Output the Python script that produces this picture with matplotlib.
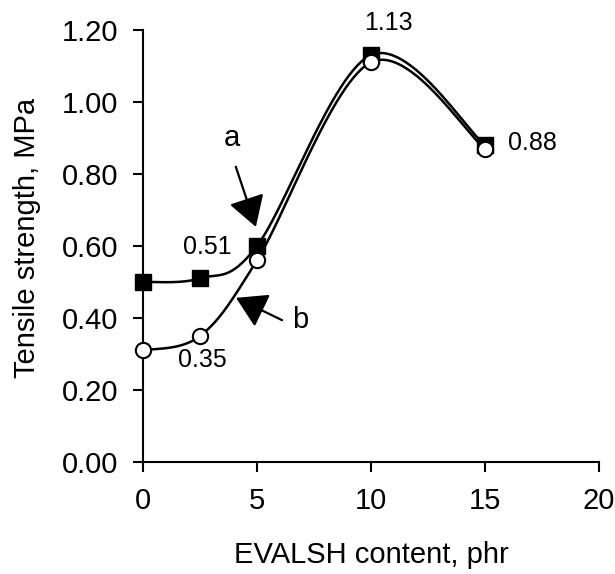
import numpy as np
import matplotlib

matplotlib.use("Agg")
import matplotlib.pyplot as plt

plt.rcParams.update(
    {
        "font.family": ["Liberation Sans", "DejaVu Sans"],
        "font.size": 21,
        "axes.linewidth": 1.5,
        "xtick.major.width": 1.5,
        "ytick.major.width": 1.5,
        "xtick.major.size": 7,
        "ytick.major.size": 7,
    }
)

# ---------------------------------------------------------------------------
# Data
# ---------------------------------------------------------------------------
content = [0, 2.5, 5, 10, 15]
strength_a = [0.50, 0.51, 0.60, 1.13, 0.88]  # filled squares
strength_b = [0.31, 0.35, 0.56, 1.11, 0.87]  # open circles

value_labels = ["1.13", "0.88", "0.51", "0.35"]
value_pos = [(10.75, 1.219), (16.0, 0.885), (2.8, 0.597), (2.6, 0.283)]


def smooth(xs, ys, n=60):
    # Catmull-Rom style smoothing (Excel-like smoothed line)
    P = np.column_stack([xs, ys]).astype(float)
    P = np.vstack([P[0], P, P[-1]])
    out = []
    t = np.linspace(0, 1, n)[:, None]
    for i in range(1, len(P) - 2):
        p0, p1, p2, p3 = P[i - 1], P[i], P[i + 1], P[i + 2]
        c1 = p1 + (p2 - p0) / 6.0
        c2 = p2 - (p3 - p1) / 6.0
        seg = (
            (1 - t) ** 3 * p1
            + 3 * (1 - t) ** 2 * t * c1
            + 3 * (1 - t) * t**2 * c2
            + t**3 * p2
        )
        out.append(seg if i == 1 else seg[1:])
    out = np.vstack(out)
    return out[:, 0], out[:, 1]


fig = plt.figure(figsize=(6.15, 5.74), dpi=100)
ax = fig.add_axes([0.2325, 0.195, 0.7415, 0.753])

xa, ya = smooth(content, strength_a)
xb, yb = smooth(content, strength_b)
ax.plot(xa, ya, color="black", lw=1.8, zorder=3, clip_on=False)
ax.plot(xb, yb, color="black", lw=1.8, zorder=3, clip_on=False)
ax.plot(content, strength_a, ls="none", marker="s", ms=12, mfc="black",
        mec="black", zorder=4, clip_on=False)
ax.plot(content, strength_b, ls="none", marker="o", ms=11, mfc="white",
        mec="black", mew=1.5, zorder=5, clip_on=False)

for txt, (x, y) in zip(value_labels, value_pos):
    ha = "left" if txt == "0.88" else "center"
    ax.text(x, y, txt, ha=ha, va="center", fontsize=18, clip_on=False)

arrow = dict(arrowstyle="-|>,head_length=0.75,head_width=0.45",
             mutation_scale=25, lw=1.6, color="black", shrinkA=0, shrinkB=0)
ax.text(3.9, 0.90, "a", ha="center", va="center", fontsize=21)
ax.annotate("", xy=(4.95, 0.653), xytext=(4.07, 0.82), arrowprops=arrow)
ax.text(6.9, 0.394, "b", ha="center", va="center", fontsize=21)
ax.annotate("", xy=(4.08, 0.456), xytext=(6.1, 0.394), arrowprops=arrow)

ax.set_xlim(0, 20)
ax.set_ylim(0, 1.2)
ax.set_xticks([0, 5, 10, 15, 20])
ax.set_yticks(np.arange(0, 1.21, 0.2))
ax.set_yticklabels([f"{v:.2f}" for v in np.arange(0, 1.21, 0.2)])
ax.tick_params(direction="out", labelsize=21)
ax.tick_params(axis="y", pad=11)
ax.tick_params(axis="x", pad=11)
for s in ["top", "right"]:
    ax.spines[s].set_visible(False)

ax.set_xlabel("EVALSH content, phr", fontsize=21, labelpad=19)
ax.set_ylabel("Tensile strength, MPa", fontsize=21)
ax.yaxis.set_label_coords(-0.224, 0.519)

fig.savefig("out.png", dpi=100)
